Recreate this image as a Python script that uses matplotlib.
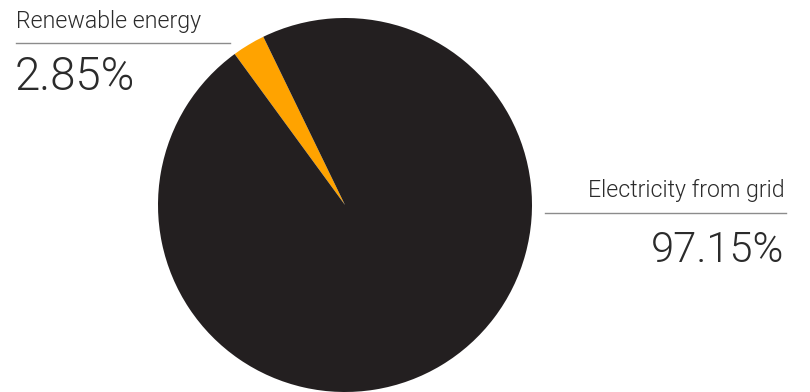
import matplotlib
matplotlib.use("Agg")
import matplotlib.pyplot as plt
from matplotlib import font_manager

labels = ["Renewable energy", "Electricity from grid"]
shares = [2.85, 97.15]
colors = ["#ffa300", "#231f20"]

W, H = 810, 392
fig = plt.figure(figsize=(W / 100, H / 100), dpi=100)

# pie axes: centre ~ (345, 205) px, radius ~187 px
r = 187
cx, cy = 345, 205
ax = fig.add_axes([(cx - r) / W, (H - cy - r) / H, 2 * r / W, 2 * r / H])
ax.pie(shares, colors=colors, startangle=115.9, counterclock=True,
       wedgeprops=dict(linewidth=0))
ax.set_xlim(-1, 1)
ax.set_ylim(-1, 1)
ax.set_aspect("equal")
ax.axis("off")

# overlay axes in pixel coords for the labels
ov = fig.add_axes([0, 0, 1, 1])
ov.set_xlim(0, W)
ov.set_ylim(H, 0)
ov.axis("off")

# pick the static Roboto Light file directly
light = [f.fname for f in font_manager.fontManager.ttflist
         if f.fname.endswith("Roboto-Light.ttf")]
if light:
    def fp(size):
        return font_manager.FontProperties(fname=light[0], size=size)
else:
    def fp(size):
        return font_manager.FontProperties(family="Roboto", weight=300, size=size)

txt = "#2b2b2b"
ov.text(16, 28, labels[0], fontproperties=fp(16.7), color=txt, ha="left", va="baseline")
ov.plot([16, 230], [43, 43], color="#8c8c8c", lw=1)
ov.text(15, 90, f"{shares[0]:.2f}%", fontproperties=fp(32.8), color=txt, ha="left", va="baseline")

ov.text(785, 197, labels[1], fontproperties=fp(16.7), color=txt, ha="right", va="baseline")
ov.plot([545, 786], [213, 213], color="#8c8c8c", lw=1)
ov.text(784, 262, f"{shares[1]:.2f}%", fontproperties=fp(30), color=txt, ha="right", va="baseline")

fig.savefig("out.png", dpi=100)
